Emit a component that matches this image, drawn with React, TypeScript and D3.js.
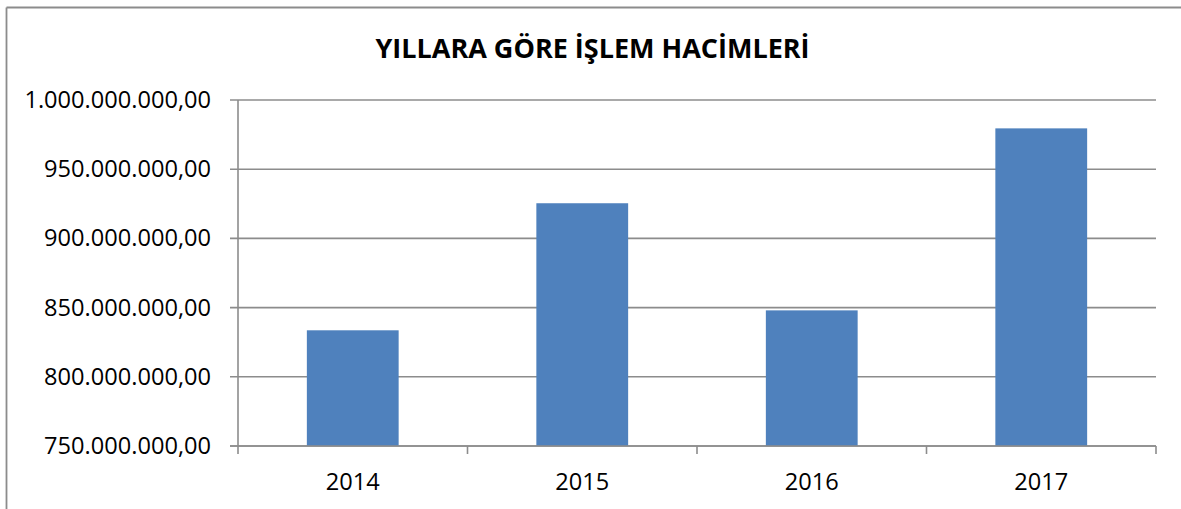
import React from "react";
import * as d3 from "d3";

const title = "YILLARA GÖRE İŞLEM HACİMLERİ";
const categories = ["2014", "2015", "2016", "2017"];
const values = [833600000, 925400000, 848000000, 979500000];
const yTicks = [750000000, 800000000, 850000000, 900000000, 950000000, 1000000000];

const W = 1181;
const H = 509;
const plot = { left: 238, right: 1156, top: 100, bottom: 446 };
const FONT = "'Open Sans', sans-serif";

function fmt(v: number): string {
  const s = Math.round(v).toString().replace(/\B(?=(\d{3})+(?!\d))/g, ".");
  return s + ",00";
}

export default function App() {
  const x = d3.scaleBand<string>().domain(categories).range([plot.left, plot.right]).paddingInner(0.6).paddingOuter(0.3);
  const xb = d3.scaleBand<string>().domain(categories).range([plot.left, plot.right]);
  const y = d3.scaleLinear().domain([750000000, 1000000000]).range([plot.bottom, plot.top]);
  const gridColor = "#8c8c8c";
  const tickPositions = [...categories.map((c) => xb(c) as number), plot.right];

  return (
    <svg width={W} height={H} style={{ position: "absolute", left: 0, top: 0, background: "#fff" }}>
      <rect x={0} y={0} width={W} height={H} fill="#fff" />
      {/* chart border (left and top only visible) */}
      <line x1={6.5} x2={W} y1={7.5} y2={7.5} stroke="#8c8c8c" strokeWidth={1.8} />
      <line x1={6.5} x2={6.5} y1={7.5} y2={H} stroke="#8c8c8c" strokeWidth={1.8} />
      <text x={592.5} y={58} textAnchor="middle" fontFamily={FONT} fontWeight="bold" fontSize={27} fill="#000">
        {title}
      </text>
      {/* gridlines */}
      {yTicks.map((t) => (
        <line key={"g" + t} x1={plot.left - 8} x2={plot.right} y1={y(t)} y2={y(t)} stroke={gridColor} strokeWidth={1.6} />
      ))}
      {/* y labels */}
      {yTicks.map((t) => (
        <text key={"l" + t} x={211} y={y(t) + 8} textAnchor="end" fontFamily={FONT} fontSize={23.6} fill="#000">
          {fmt(t)}
        </text>
      ))}
      {/* bars */}
      {categories.map((c, i) => (
        <rect
          key={c}
          x={x(c)}
          y={y(values[i])}
          width={x.bandwidth()}
          height={plot.bottom - y(values[i])}
          fill="#4f81bd"
        />
      ))}
      {/* axes */}
      <line x1={plot.left} x2={plot.left} y1={plot.top} y2={plot.bottom} stroke={gridColor} strokeWidth={1.6} />
      <line x1={plot.left - 8} x2={plot.right} y1={plot.bottom} y2={plot.bottom} stroke={gridColor} strokeWidth={1.6} />
      {tickPositions.map((p, i) => (
        <line key={"t" + i} x1={p} x2={p} y1={plot.bottom} y2={plot.bottom + 8} stroke={gridColor} strokeWidth={1.6} />
      ))}
      {categories.map((c) => (
        <text key={"x" + c} x={(xb(c) as number) + xb.bandwidth() / 2} y={490} textAnchor="middle" fontFamily={FONT} fontSize={23.6} fill="#000">
          {c}
        </text>
      ))}
    </svg>
  );
}
